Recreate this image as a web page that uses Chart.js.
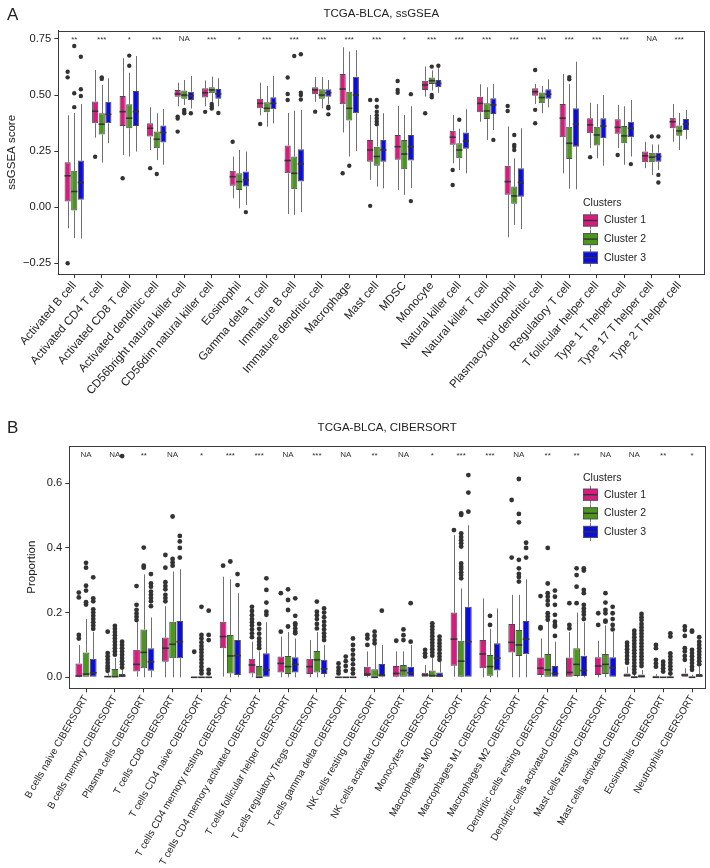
<!DOCTYPE html>
<html>
<head>
<meta charset="utf-8">
<script src="https://cdn.jsdelivr.net/npm/chart.js@4.4.0/dist/chart.umd.min.js"></script>
<style>
  html, body { margin: 0; padding: 0; background: #fff; }
  canvas { position: absolute; left: 0; }
  #chartA { top: 0; }
  #chartB { top: 420px; }
</style>
</head>
<body>
<canvas id="chartA" width="710" height="420"></canvas>
<canvas id="chartB" width="710" height="448"></canvas>
<script>
// ---------- panel A : ssGSEA ----------
const ssCells = ['Activated B cell', 'Activated CD4 T cell', 'Activated CD8 T cell', 'Activated dendritic cell',
  'CD56bright natural killer cell', 'CD56dim natural killer cell', 'Eosinophil', 'Gamma delta T cell',
  'Immature B cell', 'Immature dendritic cell', 'Macrophage', 'Mast cell', 'MDSC', 'Monocyte',
  'Natural killer cell', 'Natural killer T cell', 'Neutrophil', 'Plasmacytoid dendritic cell',
  'Regulatory T cell', 'T follicular helper cell', 'Type 1 T helper cell', 'Type 17 T helper cell',
  'Type 2 T helper cell'];
const ssSig = ['**', '***', '*', '***', 'NA', '***', '*', '***', '***', '***', '***', '***', '*', '***',
  '***', '***', '***', '***', '***', '***', '***', 'NA', '***'];
const ssTicks = [-0.25, 0, 0.25, 0.5, 0.75];
const ssTickLabels = ['\u22120.25', '0.00', '0.25', '0.50', '0.75'];

// [lower whisker, q1, median, q3, upper whisker]
const ssC1 = [[-0.094, 0.025, 0.14, 0.20, 0.41], [0.31, 0.374, 0.428, 0.471, 0.612], [0.233, 0.362, 0.426, 0.496, 0.664],
  [0.255, 0.315, 0.352, 0.374, 0.446], [0.45, 0.493, 0.505, 0.523, 0.555], [0.45, 0.489, 0.51, 0.53, 0.565],
  [0.04, 0.095, 0.136, 0.163, 0.226], [0.41, 0.441, 0.463, 0.483, 0.555], [-0.031, 0.151, 0.208, 0.275, 0.42],
  [0.47, 0.504, 0.523, 0.535, 0.58], [0.333, 0.459, 0.527, 0.594, 0.713], [0.122, 0.203, 0.255, 0.30, 0.411],
  [0.077, 0.211, 0.27, 0.322, 0.451], [0.493, 0.523, 0.545, 0.564, 0.627], [0.196, 0.278, 0.312, 0.341, 0.411],
  [0.381, 0.423, 0.463, 0.493, 0.548], [-0.134, 0.055, 0.114, 0.185, 0.36], [0.46, 0.497, 0.515, 0.53, 0.55],
  [0.151, 0.312, 0.397, 0.46, 0.594], [0.263, 0.33, 0.367, 0.397, 0.466], [0.263, 0.327, 0.356, 0.392, 0.456],
  [0.174, 0.2, 0.229, 0.248, 0.292], [0.292, 0.352, 0.381, 0.399, 0.46]];
const ssC2 = [[-0.138, -0.015, 0.07, 0.162, 0.42], [0.199, 0.324, 0.37, 0.419, 0.545], [0.226, 0.352, 0.397, 0.459, 0.6],
  [0.21, 0.263, 0.303, 0.337, 0.419], [0.456, 0.483, 0.5, 0.52, 0.567], [0.47, 0.508, 0.523, 0.535, 0.582],
  [-0.005, 0.077, 0.114, 0.151, 0.255], [0.359, 0.423, 0.441, 0.468, 0.54], [-0.034, 0.08, 0.151, 0.226, 0.43],
  [0.441, 0.483, 0.5, 0.526, 0.58], [0.226, 0.386, 0.441, 0.515, 0.694], [0.092, 0.185, 0.226, 0.27, 0.36],
  [0.055, 0.169, 0.237, 0.30, 0.411], [0.52, 0.549, 0.564, 0.578, 0.61], [0.166, 0.218, 0.255, 0.285, 0.35],
  [0.30, 0.393, 0.429, 0.463, 0.535], [-0.079, 0.015, 0.05, 0.092, 0.218], [0.419, 0.463, 0.489, 0.511, 0.54],
  [0.082, 0.215, 0.285, 0.359, 0.55], [0.218, 0.275, 0.322, 0.359, 0.46], [0.189, 0.285, 0.318, 0.362, 0.45],
  [0.144, 0.2, 0.223, 0.243, 0.28], [0.255, 0.319, 0.34, 0.364, 0.42]];
const ssC3 = [[-0.14, 0.033, 0.11, 0.208, 0.46], [0.285, 0.374, 0.414, 0.47, 0.575], [0.248, 0.362, 0.426, 0.518, 0.674],
  [0.189, 0.288, 0.333, 0.364, 0.438], [0.44, 0.478, 0.497, 0.515, 0.585], [0.45, 0.484, 0.505, 0.527, 0.575],
  [0.01, 0.092, 0.122, 0.159, 0.248], [0.374, 0.437, 0.463, 0.49, 0.585], [-0.022, 0.114, 0.193, 0.258, 0.434],
  [0.46, 0.493, 0.51, 0.526, 0.567], [0.25, 0.419, 0.5, 0.582, 0.70], [0.084, 0.203, 0.255, 0.30, 0.419],
  [0.086, 0.208, 0.27, 0.322, 0.45], [0.51, 0.535, 0.552, 0.567, 0.62], [0.151, 0.26, 0.295, 0.333, 0.437],
  [0.344, 0.416, 0.456, 0.486, 0.549], [-0.098, 0.047, 0.11, 0.174, 0.352], [0.445, 0.483, 0.504, 0.526, 0.57],
  [0.08, 0.27, 0.37, 0.441, 0.649], [0.185, 0.307, 0.362, 0.397, 0.5], [0.226, 0.312, 0.352, 0.381, 0.478],
  [0.166, 0.203, 0.226, 0.243, 0.28], [0.303, 0.344, 0.371, 0.393, 0.434]];
const ssOut1 = [[0.604, 0.579, -0.25], [0.225], [0.129], [0.174], [0.404, 0.395, 0.337], [0.425], [0.292], [0.371],
  [0.578, 0.505, 0.478], [0.426], [0.151], [0.478, 0.006], [0.563, 0.523, 0.51], [0.419], [0.166, 0.099], [],
  [0.451, 0.429], [0.612, 0.434, 0.374], [], [0.223], [0.233], [], []];
const ssOut2 = [[0.719, 0.508, 0.446], [0.579, 0.572], [0.676, 0.631], [0.148], [0.434, 0.426, 0.419], [0.46, 0.45, 0.44],
  [], [], [0.674], [], [0.185], [0.478, 0.448, 0.426, 0.41, 0.396, 0.382, 0.37], [], [0.627, 0.50, 0.49], [0.39], [],
  [0.322, 0.278, 0.27, 0.255], [], [0.58, 0.57], [], [], [0.315], []];
const ssOut3 = [[0.671, 0.526, 0.496], [], [], [], [0.419], [0.42], [-0.022], [], [0.682, 0.51, 0.50, 0.48],
  [0.448, 0.441, 0.414], [], [], [0.504, 0.027], [0.631], [], [0.30], [], [], [], [], [0.192], [0.315, 0.144, 0.11], []];

// ---------- panel B : CIBERSORT ----------
const ciCells = ['B cells naive CIBERSORT', 'B cells memory CIBERSORT', 'Plasma cells CIBERSORT', 'T cells CD8 CIBERSORT',
  'T cells CD4 naive CIBERSORT', 'T cells CD4 memory resting CIBERSORT', 'T cells CD4 memory activated CIBERSORT',
  'T cells follicular helper CIBERSORT', 'T cells regulatory Tregs CIBERSORT', 'T cells gamma delta CIBERSORT',
  'NK cells resting CIBERSORT', 'NK cells activated CIBERSORT', 'Monocytes CIBERSORT', 'Macrophages M0 CIBERSORT',
  'Macrophages M1 CIBERSORT', 'Macrophages M2 CIBERSORT', 'Dendritic cells resting CIBERSORT',
  'Dendritic cells activated CIBERSORT', 'Mast cells resting CIBERSORT', 'Mast cells activated CIBERSORT',
  'Eosinophils CIBERSORT', 'Neutrophils CIBERSORT'];
const ciSig = ['NA', 'NA', '**', 'NA', '*', '***', '***', 'NA', '***', 'NA', '**', 'NA', '*', '***', '***', 'NA',
  '**', '**', 'NA', 'NA', '**', '*'];
const ciTicks = [0, 0.2, 0.4, 0.6];
const ciTickLabels = ['0.0', '0.2', '0.4', '0.6'];

const ciC1 = [[0, 0.002, 0.004, 0.043, 0.10], [0, 0, 0.002, 0.005, 0.012], [0.002, 0.018, 0.04, 0.085, 0.17],
  [0, 0.048, 0.09, 0.123, 0.22], [0, 0, 0, 0, 0], [0.002, 0.09, 0.126, 0.172, 0.311], [0, 0.012, 0.038, 0.057, 0.11],
  [0, 0.015, 0.043, 0.064, 0.126], [0, 0.01, 0.033, 0.057, 0.115], [0, 0, 0, 0, 0], [0, 0.004, 0.01, 0.033, 0.08],
  [0, 0.002, 0.012, 0.035, 0.08], [0, 0, 0.007, 0.014, 0.038], [0.002, 0.036, 0.118, 0.2, 0.44],
  [0, 0.028, 0.072, 0.115, 0.244], [0, 0.077, 0.108, 0.165, 0.255], [0, 0.007, 0.028, 0.061, 0.12],
  [0, 0, 0.015, 0.061, 0.14], [0, 0.007, 0.035, 0.062, 0.113], [0, 0, 0.006, 0.012, 0.033], [0, 0, 0, 0.005, 0.01],
  [0, 0, 0.007, 0.012, 0.028]];
const ciC2 = [[0, 0, 0.01, 0.077, 0.18], [0, 0, 0.002, 0.026, 0.06], [0, 0.028, 0.077, 0.148, 0.318],
  [0, 0.059, 0.102, 0.172, 0.327], [0, 0, 0, 0, 0], [0, 0.012, 0.066, 0.131, 0.303], [0, 0, 0, 0.035, 0.08],
  [0, 0.01, 0.033, 0.066, 0.14], [0, 0.015, 0.054, 0.081, 0.14], [0, 0, 0, 0, 0], [0, 0, 0, 0.025, 0.1],
  [0, 0, 0.021, 0.038, 0.08], [0, 0, 0.005, 0.021, 0.059], [0, 0.002, 0.05, 0.113, 0.275],
  [0, 0.005, 0.033, 0.069, 0.15], [0, 0.066, 0.1, 0.146, 0.255], [0, 0, 0.023, 0.072, 0.175],
  [0, 0.004, 0.04, 0.09, 0.2], [0, 0.01, 0.04, 0.072, 0.16], [0, 0, 0, 0.004, 0.01], [0, 0, 0, 0, 0],
  [0, 0, 0, 0.003, 0.008]];
const ciC3 = [[0, 0, 0.014, 0.057, 0.14], [0, 0, 0.004, 0.01, 0.025], [0, 0.02, 0.048, 0.09, 0.185],
  [0, 0.059, 0.11, 0.174, 0.334], [0, 0, 0, 0, 0], [0, 0.007, 0.067, 0.115, 0.26], [0, 0, 0.023, 0.074, 0.17],
  [0, 0.015, 0.04, 0.062, 0.12], [0, 0.01, 0.026, 0.054, 0.1], [0, 0, 0, 0, 0], [0, 0.002, 0.007, 0.041, 0.1],
  [0, 0, 0.014, 0.033, 0.1], [0, 0, 0.004, 0.015, 0.048], [0, 0, 0.11, 0.218, 0.47],
  [0, 0.021, 0.059, 0.105, 0.213], [0, 0.071, 0.118, 0.174, 0.303], [0, 0, 0.012, 0.035, 0.11],
  [0, 0.004, 0.021, 0.067, 0.17], [0, 0, 0.03, 0.062, 0.14], [0, 0, 0.002, 0.009, 0.023], [0, 0, 0, 0.003, 0.008],
  [0, 0, 0.004, 0.01, 0.033]];
const ciOut1 = [[0.262, 0.247, 0.131, 0.12], [0.141, 0.075, 0.065, 0.055, 0.045, 0.035, 0.028, 0.02],
  [0.282, 0.224, 0.208, 0.197, 0.187, 0.177], [0.378, 0.339, 0.294, 0.282, 0.272, 0.255, 0.245, 0.235], [0.079],
  [0.345], [0.218, 0.205, 0.192, 0.18, 0.17, 0.16, 0.148, 0.136, 0.124], [0.26, 0.141], [], [0.043, 0.03, 0.02, 0.012],
  [0.131, 0.12, 0.1], [0.113], [0.085, 0.074, 0.064], [0.455], [], [0.548, 0.37], [0.251, 0.155, 0.151],
  [0.229, 0.162, 0.151], [0.198, 0.162], [0.107, 0.097, 0.087, 0.077, 0.066, 0.055, 0.045],
  [0.1, 0.09, 0.054, 0.043, 0.033], [0.157, 0.146, 0.128, 0.09, 0.08, 0.066, 0.054]];
const ciOut2 = [[0.354, 0.339, 0.283, 0.268, 0.232, 0.225], [0.159, 0.15, 0.14, 0.13, 0.12, 0.11, 0.1, 0.09, 0.08, 0.07],
  [0.401, 0.345, 0.339], [0.497, 0.366, 0.355, 0.345],
  [0.218, 0.131, 0.12, 0.108, 0.097, 0.087, 0.077, 0.066, 0.055, 0.044, 0.033, 0.022, 0.012], [0.358],
  [0.165, 0.15, 0.135, 0.12, 0.11, 0.1, 0.09], [0.272, 0.239, 0.208, 0.157], [0.234, 0.203, 0.192, 0.18, 0.165, 0.151],
  [0.064, 0.05, 0.035, 0.02], [0.141, 0.128, 0.115, 0.105], [0.148, 0.13, 0.115],
  [0.167, 0.157, 0.147, 0.137, 0.127, 0.117, 0.107, 0.097, 0.087, 0.077, 0.067],
  [0.507, 0.502, 0.445, 0.434, 0.424, 0.414, 0.404, 0.352, 0.342, 0.335, 0.325, 0.316, 0.306], [0.19, 0.162],
  [0.613, 0.505, 0.479, 0.363, 0.337, 0.32, 0.31, 0.296], [0.4, 0.29, 0.26, 0.249, 0.237, 0.224, 0.198, 0.188, 0.178],
  [0.337, 0.316, 0.28, 0.229], [0.26, 0.231, 0.208, 0.198, 0.175, 0.172],
  [0.144, 0.134, 0.124, 0.114, 0.104, 0.094, 0.084, 0.074, 0.064, 0.054, 0.044, 0.034, 0.024, 0.014],
  [0.048, 0.038, 0.028, 0.018], [0.144, 0.141, 0.085, 0.075, 0.065, 0.054, 0.044, 0.033, 0.023]];
const ciOut3 = [[0.309, 0.244, 0.235, 0.21, 0.2, 0.19, 0.18, 0.17, 0.16, 0.15],
  [0.684, 0.11, 0.1, 0.09, 0.08, 0.07, 0.06, 0.05, 0.04, 0.03], [0.319, 0.29, 0.28, 0.265, 0.255, 0.245, 0.235, 0.22],
  [0.437, 0.42, 0.40, 0.37], [0.206, 0.131, 0.115, 0.023, 0.012], [0.319, 0.285], [0.306, 0.27, 0.231, 0.203, 0.193],
  [0.244, 0.19, 0.167, 0.162, 0.151, 0.141, 0.136], [0.213, 0.2, 0.186, 0.172, 0.16, 0.148, 0.136, 0.125, 0.115],
  [0.12, 0.1, 0.085, 0.07, 0.055, 0.04, 0.025, 0.012], [0.206], [0.229, 0.11],
  [0.126, 0.115, 0.105, 0.095, 0.085, 0.074, 0.064, 0.054], [0.625, 0.571, 0.512], [], [0.416, 0.4, 0.37],
  [0.268, 0.249, 0.224, 0.193, 0.172, 0.162, 0.157, 0.128], [0.337, 0.33, 0.27, 0.26, 0.224, 0.213, 0.203, 0.193, 0.18],
  [0.218, 0.198, 0.18, 0.162, 0.148],
  [0.196, 0.186, 0.177, 0.165, 0.155, 0.145, 0.135, 0.125, 0.115, 0.105, 0.095, 0.085, 0.075, 0.065, 0.055, 0.045, 0.035],
  [0.136, 0.126, 0.074, 0.064, 0.054, 0.044, 0.034, 0.024, 0.012], [0.124, 0.11, 0.1, 0.09, 0.08, 0.07, 0.06, 0.05, 0.04]];

const clusterNames = ['Cluster 1', 'Cluster 2', 'Cluster 3'];
const clusterColors = ['#d81b7f', '#4c9620', '#0c0cdc'];
const FONT = "'Liberation Sans', Arial, Helvetica, sans-serif";

// whiskers, medians, outliers, frame, significance, legend and titles
function boxPlugin(cfg) {
  return {
    id: 'boxes',
    beforeDatasetsDraw(chart) {
      const ctx = chart.ctx, y = chart.scales.y;
      ctx.save();
      ctx.strokeStyle = '#707070';
      ctx.lineWidth = 1;
      cfg.stats.forEach((st, d) => {
        chart.getDatasetMeta(d).data.forEach((bar, i) => {
          const s = st[i];
          const x = Math.round(bar.x) + 0.5;
          ctx.beginPath();
          ctx.moveTo(x, y.getPixelForValue(s[0]));
          ctx.lineTo(x, y.getPixelForValue(s[1]));
          ctx.moveTo(x, y.getPixelForValue(s[3]));
          ctx.lineTo(x, y.getPixelForValue(s[4]));
          ctx.stroke();
        });
      });
      ctx.restore();
    },
    afterDatasetsDraw(chart) {
      const ctx = chart.ctx, y = chart.scales.y;
      ctx.save();
      ctx.strokeStyle = '#333';
      ctx.lineWidth = 1.6;
      ctx.fillStyle = '#333';
      cfg.stats.forEach((st, d) => {
        chart.getDatasetMeta(d).data.forEach((bar, i) => {
          const py = y.getPixelForValue(st[i][2]);
          ctx.beginPath();
          ctx.moveTo(bar.x - bar.width / 2, py);
          ctx.lineTo(bar.x + bar.width / 2, py);
          ctx.stroke();
          cfg.outliers[d][i].forEach(v => {
            ctx.beginPath();
            ctx.arc(bar.x, y.getPixelForValue(v), cfg.dot, 0, Math.PI * 2);
            ctx.fill();
          });
        });
      });
      ctx.restore();
    },
    afterDraw(chart) {
      const ctx = chart.ctx, a = chart.chartArea, x = chart.scales.x;
      ctx.save();
      ctx.strokeStyle = '#3a3a3a';
      ctx.lineWidth = 1;
      ctx.strokeRect(Math.round(a.left) + 0.5, Math.round(a.top) + 0.5,
        Math.round(a.right - a.left), Math.round(a.bottom - a.top));
      // significance marks
      ctx.fillStyle = '#333';
      ctx.textAlign = 'center';
      ctx.textBaseline = 'middle';
      ctx.font = '8px ' + FONT;
      cfg.sig.forEach((s, i) => {
        ctx.fillText(s, x.getPixelForValue(i), a.top + 8.5 + (s === 'NA' ? 0 : 1));
      });
      // title and panel letter
      ctx.fillStyle = '#222';
      ctx.font = '11.5px ' + FONT;
      ctx.fillText(cfg.title, (a.left + a.right) / 2, cfg.titleY);
      ctx.textAlign = 'left';
      ctx.font = '17px ' + FONT;
      ctx.fillText(cfg.letter, 7, cfg.titleY + 1);
      // legend
      const lx = cfg.legendX, ly = cfg.legendY;
      ctx.font = '10.5px ' + FONT;
      ctx.fillText('Clusters', lx, ly);
      clusterNames.forEach((name, k) => {
        const cy = ly + 17 + k * 18.6;
        ctx.strokeStyle = '#777';
        ctx.lineWidth = 1;
        ctx.beginPath();
        ctx.moveTo(lx + 7.5, cy - 9);
        ctx.lineTo(lx + 7.5, cy + 9);
        ctx.stroke();
        ctx.fillStyle = clusterColors[k];
        ctx.fillRect(lx, cy - 6, 15, 12);
        ctx.strokeStyle = '#555';
        ctx.strokeRect(lx + 0.5, cy - 5.5, 14, 11);
        ctx.strokeStyle = '#333';
        ctx.lineWidth = 1.4;
        ctx.beginPath();
        ctx.moveTo(lx + 0.5, cy);
        ctx.lineTo(lx + 14.5, cy);
        ctx.stroke();
        ctx.fillStyle = '#222';
        ctx.fillText(name, lx + 21, cy);
      });
      ctx.restore();
    }
  };
}

function makeChart(id, p) {
  const datasets = p.stats.map((st, d) => ({
    label: clusterNames[d],
    data: st.map((s, i) => ({ x: i, y: [s[1], s[3]] })),
    backgroundColor: clusterColors[d],
    borderColor: '#4a4a4a',
    borderWidth: 1,
    borderSkipped: false,
    categoryPercentage: p.catPct,
    barPercentage: p.barPct
  }));
  return new Chart(document.getElementById(id), {
    type: 'bar',
    data: { datasets },
    options: {
      responsive: false,
      animation: false,
      layout: { padding: { top: p.top, right: p.right, left: 0, bottom: 0 } },
      plugins: { legend: { display: false }, title: { display: false }, tooltip: { enabled: false } },
      scales: {
        x: {
          type: 'linear', bounds: 'data', offset: false,
          min: p.xMin, max: p.xMax,
          afterBuildTicks: s => { s.ticks = p.cells.map((c, i) => ({ value: i })); },
          afterFit: s => { s.height = p.xHeight; },
          ticks: {
            autoSkip: false, minRotation: p.rot, maxRotation: p.rot, padding: 1, color: '#222',
            font: { family: FONT, size: p.xFont },
            callback: v => p.cells[v]
          },
          grid: { display: true, drawOnChartArea: false, offset: false, tickLength: 4, color: '#333' },
          border: { display: true, color: '#333' }
        },
        y: {
          type: 'linear', bounds: 'data',
          min: p.yMin, max: p.yMax,
          afterBuildTicks: s => { s.ticks = p.yTicks.map(v => ({ value: v })); },
          afterFit: s => { s.width = p.yWidth; },
          ticks: {
            padding: 3, color: '#222', font: { family: FONT, size: 11.2 },
            callback: (v, i) => p.yLabels[i]
          },
          grid: { display: true, drawOnChartArea: false, tickLength: 4, color: '#333' },
          border: { display: true, color: '#333' },
          title: {
            display: true, text: p.yTitle, color: '#222',
            font: { family: FONT, size: 11.5 }, padding: { top: p.yTitlePad, bottom: 0 }
          }
        }
      }
    },
    plugins: [boxPlugin(p)]
  });
}

makeChart('chartA', {
  cells: ssCells, sig: ssSig, yTicks: ssTicks, yLabels: ssTickLabels,
  stats: [ssC1, ssC2, ssC3], outliers: [ssOut1, ssOut2, ssOut3],
  title: 'TCGA-BLCA, ssGSEA', letter: 'A', titleY: 14, yTitle: 'ssGSEA score', yTitlePad: 5,
  top: 30.7, right: 5.7, xHeight: 146, yWidth: 58.3,
  xMin: -0.58, xMax: 22.91, yMin: -0.298, yMax: 0.787,
  rot: 49, xFont: 11.6, catPct: 0.72, barPct: 0.93, dot: 2.2,
  legendX: 583, legendY: 203.5
});

makeChart('chartB', {
  cells: ciCells, sig: ciSig, yTicks: ciTicks, yLabels: ciTickLabels,
  stats: [ciC1, ciC2, ciC3], outliers: [ciOut1, ciOut2, ciOut3],
  title: 'TCGA-BLCA, CIBERSORT', letter: 'B', titleY: 7.5, yTitle: 'Proportion', yTitlePad: 25,
  top: 26, right: 5, xHeight: 179.7, yWidth: 69.3,
  xMin: -0.58, xMax: 21.45, yMin: -0.034, yMax: 0.715,
  rot: 60, xFont: 10, catPct: 0.75, barPct: 0.93, dot: 2.4,
  legendX: 583, legendY: 57.7
});
</script>
</body>
</html>
